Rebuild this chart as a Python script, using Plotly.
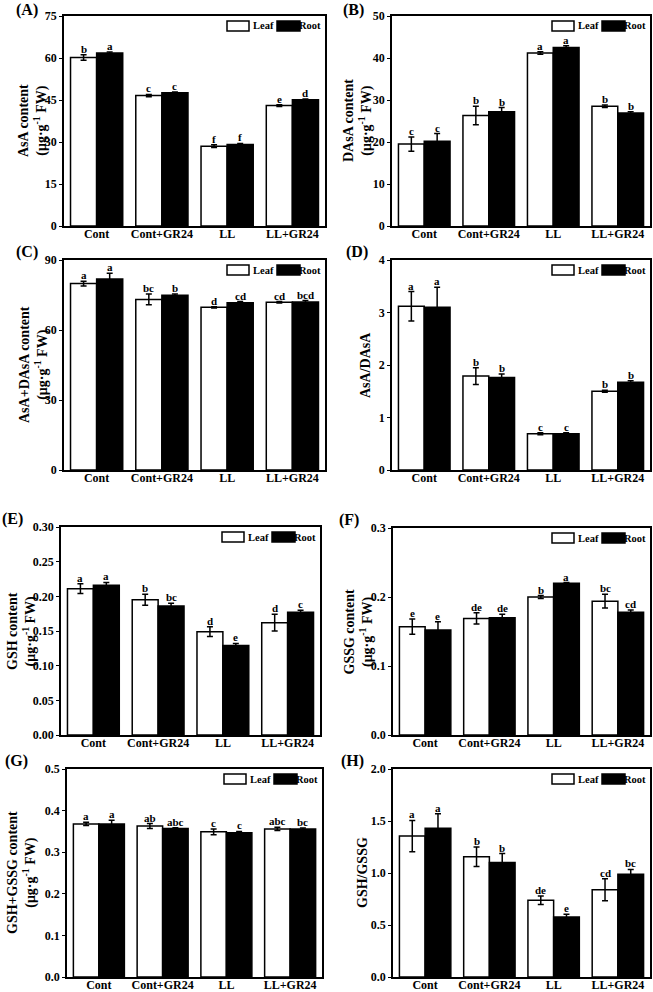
import plotly.graph_objects as go

categories = ["Cont", "Cont+GR24", "LL", "LL+GR24"]

# (A) AsA content
asa_leaf = [60.2, 46.6, 28.5, 43.0]
asa_leaf_err = [1.0, 0.4, 0.5, 0.3]
asa_root = [61.8, 47.6, 29.1, 45.1]
asa_root_err = [0.3, 0.3, 0.4, 0.3]
asa_leaf_sig = ["b", "c", "f", "e"]
asa_root_sig = ["a", "c", "f", "d"]

# (B) DAsA content
dasa_leaf = [19.5, 26.3, 41.2, 28.5]
dasa_leaf_err = [1.7, 2.2, 0.3, 0.3]
dasa_root = [20.2, 27.2, 42.5, 26.9]
dasa_root_err = [1.8, 1.0, 0.4, 0.3]
dasa_leaf_sig = ["c", "b", "a", "b"]
dasa_root_sig = ["c", "b", "a", "b"]

# (C) AsA+DAsA content
tot_leaf = [79.9, 73.1, 69.7, 71.9]
tot_leaf_err = [1.0, 2.3, 0.3, 0.3]
tot_root = [81.9, 74.9, 71.7, 72.0]
tot_root_err = [2.4, 0.5, 0.5, 0.6]
tot_leaf_sig = ["a", "bc", "d", "cd"]
tot_root_sig = ["a", "b", "cd", "bcd"]

# (D) AsA/DAsA
ratio1_leaf = [3.12, 1.79, 0.69, 1.50]
ratio1_leaf_err = [0.28, 0.16, 0.02, 0.02]
ratio1_root = [3.10, 1.76, 0.69, 1.67]
ratio1_root_err = [0.38, 0.07, 0.02, 0.03]
ratio1_leaf_sig = ["a", "b", "c", "b"]
ratio1_root_sig = ["a", "b", "c", "b"]

# (E) GSH content
gsh_leaf = [0.211, 0.195, 0.149, 0.162]
gsh_leaf_err = [0.007, 0.008, 0.007, 0.012]
gsh_root = [0.216, 0.186, 0.129, 0.177]
gsh_root_err = [0.004, 0.004, 0.003, 0.003]
gsh_leaf_sig = ["a", "b", "d", "d"]
gsh_root_sig = ["a", "bc", "e", "c"]

# (F) GSSG content
gssg_leaf = [0.157, 0.169, 0.200, 0.194]
gssg_leaf_err = [0.011, 0.008, 0.002, 0.010]
gssg_root = [0.152, 0.170, 0.220, 0.178]
gssg_root_err = [0.012, 0.005, 0.001, 0.003]
gssg_leaf_sig = ["e", "de", "b", "bc"]
gssg_root_sig = ["e", "de", "a", "cd"]

# (G) GSH+GSSG content
gtot_leaf = [0.368, 0.363, 0.349, 0.356]
gtot_leaf_err = [0.004, 0.006, 0.007, 0.004]
gtot_root = [0.368, 0.357, 0.347, 0.356]
gtot_root_err = [0.009, 0.002, 0.003, 0.002]
gtot_leaf_sig = ["a", "ab", "c", "abc"]
gtot_root_sig = ["a", "abc", "c", "bc"]

# (H) GSH/GSSG
ratio2_leaf = [1.355, 1.156, 0.738, 0.838]
ratio2_leaf_err = [0.15, 0.093, 0.04, 0.106]
ratio2_root = [1.43, 1.10, 0.578, 0.989]
ratio2_root_err = [0.14, 0.087, 0.026, 0.045]
ratio2_leaf_sig = ["a", "b", "de", "cd"]
ratio2_root_sig = ["a", "b", "e", "bc"]

UNIT = "(μg·g<sup>-1</sup> FW)"
W, H = 653, 992

panels = [
    dict(tag="(A)", tagx=15, tdx=31, title="AsA content<br>" + UNIT, leaf=asa_leaf, le=asa_leaf_err, root=asa_root, re=asa_root_err,
         ls=asa_leaf_sig, rs=asa_root_sig, rng=[0, 75], dt=15, fmt="d", box=(64, 325, 16, 226)),
    dict(tag="(B)", tagx=342, tdx=34, title="DAsA content<br>" + UNIT, leaf=dasa_leaf, le=dasa_leaf_err, root=dasa_root, re=dasa_root_err,
         ls=dasa_leaf_sig, rs=dasa_root_sig, rng=[0, 50], dt=10, fmt="d", box=(392, 650, 16, 226)),
    dict(tag="(C)", tagx=15, tdx=30, title="AsA+DAsA content<br>" + UNIT, leaf=tot_leaf, le=tot_leaf_err, root=tot_root, re=tot_root_err,
         ls=tot_leaf_sig, rs=tot_root_sig, rng=[0, 90], dt=30, fmt="d", box=(64, 325, 260, 470)),
    dict(tag="(D)", tagx=345, tdx=27, title="AsA/DAsA", leaf=ratio1_leaf, le=ratio1_leaf_err, root=ratio1_root, re=ratio1_root_err,
         ls=ratio1_leaf_sig, rs=ratio1_root_sig, rng=[0, 4], dt=1, fmt="d", box=(392, 650, 260, 470)),
    dict(tag="(E)", tagx=1, tdx=39, title="GSH content<br>" + UNIT, leaf=gsh_leaf, le=gsh_leaf_err, root=gsh_root, re=gsh_root_err,
         ls=gsh_leaf_sig, rs=gsh_root_sig, rng=[0, 0.30], dt=0.05, fmt=".2f", box=(61, 320, 527, 735)),
    dict(tag="(F)", tagx=338, tdx=35, title="GSSG content<br>" + UNIT, leaf=gssg_leaf, le=gssg_leaf_err, root=gssg_root, re=gssg_root_err,
         ls=gssg_leaf_sig, rs=gssg_root_sig, rng=[0, 0.3], dt=0.1, fmt=".1f", box=(393, 650, 528, 735)),
    dict(tag="(G)", tagx=4, tdx=45, title="GSH+GSSG content<br>" + UNIT, leaf=gtot_leaf, le=gtot_leaf_err, root=gtot_root, re=gtot_root_err,
         ls=gtot_leaf_sig, rs=gtot_root_sig, rng=[0, 0.5], dt=0.1, fmt=".1f", box=(67, 322, 769, 977)),
    dict(tag="(H)", tagx=340, tdx=31, title="GSH/GSSG", leaf=ratio2_leaf, le=ratio2_leaf_err, root=ratio2_root, re=ratio2_root_err,
         ls=ratio2_leaf_sig, rs=ratio2_root_sig, rng=[0, 2.0], dt=0.5, fmt=".1f", box=(393, 650, 769, 977)),
]

FONT = "Liberation Serif, Times New Roman, serif"

fig = go.Figure()
layout = dict(
    width=W, height=H,
    margin=dict(l=0, r=0, t=0, b=0, autoexpand=False),
    paper_bgcolor="white", plot_bgcolor="white",
    font=dict(family=FONT, size=12, color="black", weight="bold"),
    barmode="group", bargap=0.2, bargroupgap=0,
    showlegend=False,
)
annotations = []
shapes = []

for i, p in enumerate(panels):
    n = i + 1
    xa = "x" if n == 1 else f"x{n}"
    ya = "y" if n == 1 else f"y{n}"
    x0, x1, y0, y1 = p["box"]
    pw, ph = x1 - x0, y1 - y0
    layout["xaxis" if n == 1 else f"xaxis{n}"] = dict(
        domain=[x0 / W, x1 / W], anchor=ya, type="category", automargin=False,
        showline=True, mirror=True, linecolor="black", linewidth=1.8,
        ticks="", showgrid=False, tickfont=dict(size=12), fixedrange=True,
        ticklabelstandoff=-4,
    )
    layout["yaxis" if n == 1 else f"yaxis{n}"] = dict(
        domain=[1 - y1 / H, 1 - y0 / H], anchor=xa, range=p["rng"], automargin=False,
        dtick=p["dt"], tick0=0, tickformat=p["fmt"],
        showline=True, mirror=True, linecolor="black", linewidth=1.8,
        ticks="outside", ticklen=3, tickwidth=1.2, tickcolor="black",
        showgrid=False, zeroline=False, tickfont=dict(size=12),
    )
    # y-axis title placed as rotated text left of the tick labels
    annotations.append(dict(
        x=(x0 - p["tdx"]) / W, y=1 - ((y0 + y1) / 2) / H, xref="paper", yref="paper",
        text=p["title"], textangle=-90, showarrow=False, xanchor="center", yanchor="middle",
        font=dict(size=14),
    ))
    for vals, errs, color, name in [(p["leaf"], p["le"], "white", "Leaf"), (p["root"], p["re"], "black", "Root")]:
        fig.add_trace(go.Bar(
            x=categories, y=vals, name=name, xaxis=xa, yaxis=ya,
            marker=dict(color=color, line=dict(color="black", width=1.5)),
            error_y=dict(type="data", array=errs, visible=True, color="black", thickness=1.5, width=3),
        ))
    # significance letters
    catw = pw / len(categories)
    off = 0.2 * catw
    for sigs, vals, errs, sh in [(p["ls"], p["leaf"], p["le"], -off), (p["rs"], p["root"], p["re"], off)]:
        for c, s, v, e in zip(categories, sigs, vals, errs):
            annotations.append(dict(
                x=c, y=v + e, xref=xa, yref=ya, text=s, showarrow=False,
                xshift=sh, yanchor="bottom", yshift=-2, font=dict(size=11),
            ))
    # legend (drawn inside top-right of each panel)
    xd, yd = f"{xa} domain", f"{ya} domain"

    def fx(px, pw=pw):
        return 1 - px / pw

    def fy(px, ph=ph):
        return 1 - px / ph

    shapes.append(dict(type="rect", xref=xd, yref=yd, x0=fx(98), x1=fx(76), y0=fy(15), y1=fy(5),
                       line=dict(color="black", width=1.5), fillcolor="white"))
    shapes.append(dict(type="rect", xref=xd, yref=yd, x0=fx(48), x1=fx(25), y0=fy(15), y1=fy(5),
                       line=dict(color="black", width=1.5), fillcolor="black"))
    annotations.append(dict(x=fx(74), y=fy(10), xref=xd, yref=yd, text="Leaf", showarrow=False,
                            xanchor="left", yanchor="middle", font=dict(size=10.5)))
    annotations.append(dict(x=fx(2), y=fy(10), xref=xd, yref=yd, text="Root", showarrow=False,
                            xanchor="right", yanchor="middle", font=dict(size=10.5)))
    # panel tag
    tag_top = max(0, y0 - 18)
    annotations.append(dict(x=p["tagx"] / W, y=1 - tag_top / H, xref="paper", yref="paper", text=p["tag"],
                            showarrow=False, xanchor="left", yanchor="top", font=dict(size=16),
                            borderpad=0))

layout["annotations"] = annotations
layout["shapes"] = shapes
fig.update_layout(**layout)
fig.write_html(
    "out.html",
    config={"displayModeBar": False},
    post_script="document.body.style.margin='0';document.body.style.overflow='hidden';",
)
